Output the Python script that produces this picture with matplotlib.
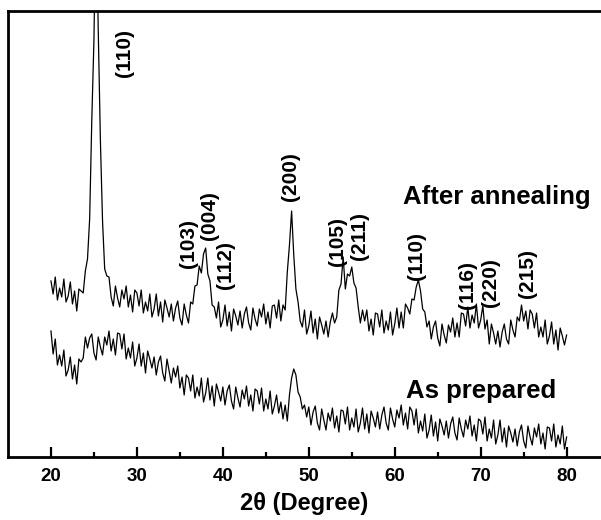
import numpy as np
import matplotlib.pyplot as plt

plt.rcParams['font.family'] = ['Liberation Sans', 'DejaVu Sans']
plt.rcParams['font.weight'] = 'bold'

# 2-theta grid of the scans, 0.25 degree steps from 20 to 80
two_theta = np.arange(0, 241) * 0.25 + 20.0

# after annealing (arbitrary intensity)
annealed = [
    176, 163, 180, 157, 169, 160, 178, 155,
    161, 175, 153, 166, 146, 168, 166, 164,
    186, 198, 238, 337, 417, 560, 427, 317,
    236, 188, 181, 180, 160, 151, 171, 159,
    150, 167, 158, 171, 150, 162, 145, 167,
    164, 151, 167, 144, 155, 146, 163, 140,
    148, 163, 141, 155, 135, 157, 149, 140,
    153, 136, 149, 156, 139, 132, 153, 142,
    134, 155, 153, 171, 172, 191, 184, 203,
    209, 183, 176, 152, 150, 139, 155, 130,
    137, 152, 131, 145, 126, 148, 141, 132,
    146, 129, 143, 150, 134, 127, 149, 138,
    131, 148, 140, 153, 133, 145, 129, 151,
    152, 139, 157, 136, 152, 147, 185, 212,
    246, 202, 168, 155, 136, 130, 147, 123,
    131, 146, 124, 138, 118, 140, 132, 123,
    136, 120, 135, 144, 134, 140, 167, 173,
    200, 168, 183, 181, 190, 174, 169, 150,
    134, 147, 136, 147, 126, 138, 122, 144,
    143, 130, 147, 124, 136, 127, 145, 122,
    133, 149, 129, 145, 129, 153, 149, 143,
    158, 157, 170, 177, 166, 148, 145, 130,
    136, 118, 130, 136, 119, 111, 133, 122,
    114, 132, 125, 139, 120, 134, 120, 144,
    143, 131, 150, 129, 142, 134, 153, 129,
    137, 151, 128, 137, 113, 133, 124, 113,
    126, 110, 125, 133, 118, 113, 137, 127,
    120, 140, 136, 152, 136, 146, 128, 147,
    143, 129, 144, 120, 130, 120, 137, 113,
    121, 135, 113, 127, 107, 129, 121, 112,
    122,
]

# as prepared
prepared = [
    126, 103, 118, 92, 102, 91, 107, 81,
    87, 100, 78, 92, 73, 98, 95, 99,
    120, 109, 119, 123, 104, 97, 120, 110,
    102, 120, 112, 126, 106, 118, 102, 124,
    123, 108, 123, 98, 109, 99, 115, 91,
    99, 113, 91, 104, 84, 106, 98, 89,
    100, 82, 95, 101, 84, 76, 98, 86,
    74, 89, 80, 91, 69, 80, 62, 82,
    79, 66, 82, 59, 70, 61, 79, 55,
    64, 79, 57, 71, 51, 73, 65, 56,
    70, 52, 66, 72, 56, 48, 70, 59,
    50, 67, 58, 71, 51, 62, 46, 68,
    66, 53, 69, 46, 58, 48, 66, 43,
    51, 62, 44, 55, 38, 52, 36, 62,
    79, 88, 82, 65, 60, 48, 52, 40,
    50, 32, 45, 51, 34, 27, 48, 37,
    27, 44, 36, 49, 29, 41, 25, 47,
    46, 33, 50, 27, 39, 30, 48, 25,
    34, 49, 28, 43, 24, 46, 39, 30,
    45, 28, 42, 50, 34, 27, 49, 38,
    30, 47, 39, 52, 32, 44, 28, 50,
    46, 32, 48, 24, 36, 26, 43, 19,
    27, 42, 21, 35, 16, 38, 31, 22,
    36, 19, 33, 40, 24, 17, 39, 28,
    20, 37, 28, 41, 21, 32, 16, 38,
    36, 23, 40, 16, 28, 19, 37, 13,
    22, 37, 15, 29, 10, 31, 24, 15,
    28, 11, 25, 32, 16, 9, 31, 20,
    12, 29, 20, 33, 13, 24, 8, 30,
    29, 16, 33, 10, 22, 13, 31, 8,
    20,
]

# peak labels and where they sit
hkl = ['(110)', '(103)', '(004)', '(112)', '(200)', '(105)',
       '(211)', '(110)', '(116)', '(220)', '(215)']
label_x = [28.5, 35.95, 38.5, 40.25, 47.9, 53.3, 55.95, 62.5, 68.5, 71.2, 75.5]
label_y = [404, 213, 241, 192, 280, 216, 221, 201, 172, 174, 184]

fig = plt.figure(figsize=(6.01, 5.2), dpi=100)
ax = fig.add_axes([8 / 601, 63 / 520, 593 / 601, 446 / 520])

ax.plot(two_theta, annealed, color='black', lw=0.9)
ax.plot(two_theta, prepared, color='black', lw=0.9)

for lab, lx, ly in zip(hkl, label_x, label_y):
    ax.text(lx, ly, lab, rotation=90, ha='center', va='center',
            fontsize=15, fontweight='bold')

ax.text(60.96, 253, 'After annealing', fontsize=18.5, fontweight='bold',
        ha='left', va='baseline')
ax.text(61.3, 59, 'As prepared', fontsize=18.5, fontweight='bold',
        ha='left', va='baseline')

ax.set_xlim(15, 84)
ax.set_ylim(0, 446)
ax.set_xticks([20, 30, 40, 50, 60, 70, 80])
ax.set_xticks([25, 35, 45, 55, 65, 75], minor=True)
ax.set_yticks([])
ax.tick_params(axis='x', which='major', direction='in', length=7, width=1.6,
               labelsize=13.5, pad=8)
ax.tick_params(axis='x', which='minor', direction='in', length=3.5, width=1.6)
for lbl in ax.get_xticklabels():
    lbl.set_fontweight('bold')

ax.spines['right'].set_visible(False)
for s in ['left', 'top', 'bottom']:
    ax.spines[s].set_linewidth(2.0)

ax.set_xlabel('2\u03b8 (Degree)', fontsize=17, fontweight='bold', labelpad=5)

fig.savefig('out.png', dpi=100)
